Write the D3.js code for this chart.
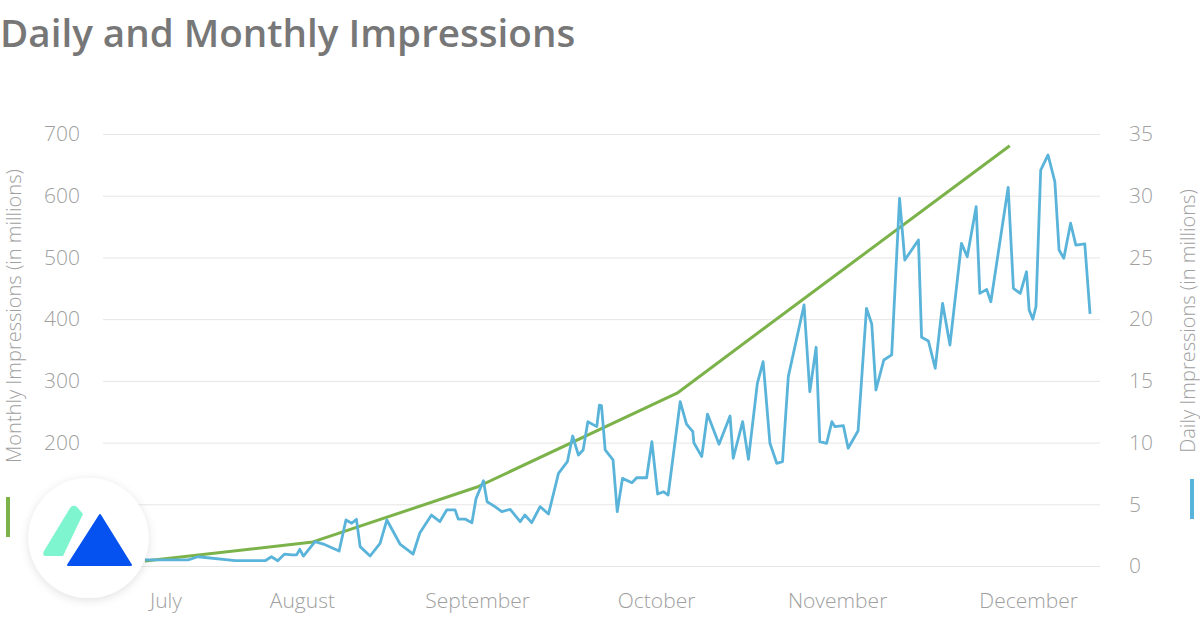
<!DOCTYPE html>
<html>
<head>
<meta charset="utf-8">
<script src="https://cdn.jsdelivr.net/npm/d3@7"></script>
<style>
  html, body { margin: 0; padding: 0; background: #fff; }
  svg { display: block; font-family: "Open Sans", sans-serif; }
</style>
</head>
<body>
<svg id="chart" width="1200" height="628"></svg>
<script>
// ---- data ----
const title = "Daily and Monthly Impressions";
const leftTitle = "Monthly Impressions (in millions)";
const rightTitle = "Daily Impressions (in millions)";

const monthLabels = ["July", "August", "September", "October", "November", "December"];
const monthLabelDays = [11.9, 37.9, 71.3, 105.4, 139.9, 176.3];

const leftTicks = [0, 100, 200, 300, 400, 500, 600, 700];
const rightTicks = [0, 5, 10, 15, 20, 25, 30, 35];

// monthly impressions (millions)
const monthlyDays = [8.0, 40.0, 71.3, 109.4, 141.0, 172.8];
const monthlyValues = [8, 39, 128, 280, 480, 681];

// daily impressions (millions)
const dailyDays = [8.0, 16.2, 18.1, 25.2, 30.9, 32.1, 33.3, 34.6, 36.0, 36.9, 37.5, 38.2, 40.4, 42.0, 45.0, 46.3, 47.4, 48.3, 49.0, 50.9,
  52.8, 54.1, 56.6, 59.1, 60.4, 62.6, 64.2, 65.5, 67.1, 67.7, 69.0, 70.3, 71.1, 72.5, 73.2, 74.7, 76.0, 77.6, 79.5, 80.4,
  81.7, 83.3, 84.9, 86.8, 88.5, 89.5, 90.6, 91.5, 92.4, 94.1, 94.6, 95.0, 95.7, 97.2, 98.0, 99.0, 100.8, 101.7, 103.6, 104.6,
  105.7, 106.8, 107.7, 110.0, 111.2, 112.4, 112.6, 114.1, 115.2, 117.4, 119.5, 120.1, 121.9, 123.0, 124.7, 125.8, 127.1, 128.4, 129.5, 130.6,
  133.6, 134.7, 135.9, 136.6, 137.9, 138.9, 139.5, 141.1, 142.0, 143.9, 145.5, 146.5, 147.3, 148.8, 150.3, 151.8, 152.8, 155.4, 156.0, 157.3,
  158.6, 160.0, 161.4, 163.6, 164.7, 166.4, 167.1, 168.4, 169.2, 172.5, 173.5, 174.8, 176.0, 176.5, 177.2, 177.8, 178.7, 180.1, 181.4, 182.2,
  183.1, 184.4, 185.4, 187.1, 188.1];
const dailyValues = [0.5, 0.5, 0.75, 0.43, 0.43, 0.75, 0.43, 0.97, 0.9, 0.9, 1.35, 0.8, 1.97, 1.78, 1.21, 3.73, 3.46, 3.78, 1.57, 0.81,
  1.84, 3.73, 1.78, 0.97, 2.7, 4.13, 3.6, 4.54, 4.54, 3.8, 3.8, 3.5, 5.48, 6.91, 5.21, 4.81, 4.4, 4.59, 3.59, 4.13,
  3.51, 4.81, 4.21, 7.51, 8.45, 10.53, 8.99, 9.4, 11.69, 11.29, 13.04, 13.0, 9.4, 8.59, 4.4, 7.1, 6.75, 7.15, 7.15, 10.07,
  5.83, 6.02, 5.75, 13.31, 11.5, 10.88, 9.99, 8.86, 12.31, 9.86, 12.15, 8.73, 11.69, 8.64, 14.8, 16.55, 9.94, 8.32, 8.45, 15.34,
  21.15, 14.12, 17.72, 10.07, 9.94, 11.69, 11.29, 11.37, 9.54, 10.96, 20.88, 19.61, 14.26, 16.69, 17.1, 29.79, 24.79, 26.41, 18.53, 18.23,
  16.02, 21.28, 17.9, 26.14, 25.06, 29.11, 22.09, 22.41, 21.41, 30.68, 22.5, 22.09, 23.84, 20.74, 19.99, 21.01, 32.08, 33.3, 31.13, 25.6,
  24.93, 27.77, 26.0, 26.09, 20.42];

// ---- layout ----
const svg = d3.select("#chart");
const plot = { left: 103, right: 1100, top: 134, bottom: 566 };

const x = d3.scaleLinear().domain([0, 190]).range([plot.left, plot.right]);
const yL = d3.scaleLinear().domain([0, 700]).range([plot.bottom, plot.top]);
const yR = d3.scaleLinear().domain([0, 35]).range([plot.bottom, plot.top]);

const tickColor = "#a0a0a0";

// title
svg.append("text").attr("x", 0).attr("y", 47)
  .attr("font-size", 38.6).attr("font-weight", 600).attr("fill", "#777")
  .text(title);

// grid lines
svg.append("g").selectAll("line").data(leftTicks).join("line")
  .attr("x1", plot.left).attr("x2", plot.right)
  .attr("y1", d => yL(d) + 0.5).attr("y2", d => yL(d) + 0.5)
  .attr("stroke", "#e6e6e6").attr("stroke-width", 1);

// left axis
const gL = svg.append("g").attr("transform", `translate(${plot.left},0)`)
  .call(d3.axisLeft(yL).tickValues(leftTicks).tickSize(0).tickPadding(23));
gL.select(".domain").remove();
gL.selectAll("text").attr("font-size", 21).attr("font-weight", 300)
  .attr("fill", tickColor).attr("font-family", "Open Sans, sans-serif");

// right axis
const gR = svg.append("g").attr("transform", `translate(${plot.right},0)`)
  .call(d3.axisRight(yR).tickValues(rightTicks).tickSize(0).tickPadding(29));
gR.select(".domain").remove();
gR.selectAll("text").attr("font-size", 21).attr("font-weight", 300)
  .attr("fill", tickColor).attr("font-family", "Open Sans, sans-serif");

// bottom axis (month labels)
const gB = svg.append("g").attr("transform", `translate(0,${plot.bottom})`)
  .call(d3.axisBottom(x).tickValues(monthLabelDays)
    .tickFormat((d, i) => monthLabels[i]).tickSize(0).tickPadding(27));
gB.select(".domain").remove();
gB.selectAll("text").attr("font-size", 21).attr("font-weight", 300)
  .attr("fill", tickColor).attr("font-family", "Open Sans, sans-serif");

// axis titles
svg.append("text")
  .attr("transform", `translate(21,${316}) rotate(-90)`)
  .attr("text-anchor", "middle").attr("font-size", 20).attr("font-weight", 300)
  .attr("fill", tickColor).text(leftTitle);
svg.append("rect").attr("x", 6).attr("y", 497).attr("width", 4).attr("height", 40).attr("fill", "#7cb24a");

svg.append("text")
  .attr("transform", `translate(1195,${321}) rotate(-90)`)
  .attr("text-anchor", "middle").attr("font-size", 20).attr("font-weight", 300)
  .attr("fill", tickColor).text(rightTitle);
svg.append("rect").attr("x", 1190).attr("y", 479).attr("width", 4).attr("height", 40).attr("fill", "#5ab4da");

// monthly line
const monthly = monthlyDays.map((d, i) => ({ d, v: monthlyValues[i] }));
svg.append("path").datum(monthly)
  .attr("fill", "none").attr("stroke", "#7cb24a").attr("stroke-width", 3)
  .attr("stroke-linejoin", "round")
  .attr("d", d3.line().x(p => x(p.d)).y(p => yL(p.v)));

// daily line
const daily = dailyDays.map((d, i) => ({ d, v: dailyValues[i] }));
svg.append("path").datum(daily)
  .attr("fill", "none").attr("stroke", "#5ab4da").attr("stroke-width", 2.8)
  .attr("stroke-linejoin", "round")
  .attr("d", d3.line().x(p => x(p.d)).y(p => yR(p.v)));

// logo badge
const defs = svg.append("defs");
const f = defs.append("filter").attr("id", "sh").attr("x", "-30%").attr("y", "-30%").attr("width", "160%").attr("height", "160%");
f.append("feDropShadow").attr("dx", 0).attr("dy", 2).attr("stdDeviation", 5).attr("flood-color", "#000").attr("flood-opacity", 0.12);
const logo = svg.append("g");
logo.append("circle").attr("cx", 88.5).attr("cy", 538).attr("r", 60).attr("fill", "#fff").attr("filter", "url(#sh)");
logo.append("path").attr("d", "M70,508 Q73,504 77,507 L83,514 L63,556 L45,556 Q42,555 44,551 Z").attr("fill", "#7ff5cf");
logo.append("path").attr("d", "M100,515 L131,565 L68,565 Z").attr("fill", "#0552f0").attr("stroke", "#0552f0").attr("stroke-width", 2).attr("stroke-linejoin", "round");
</script>
</body>
</html>
